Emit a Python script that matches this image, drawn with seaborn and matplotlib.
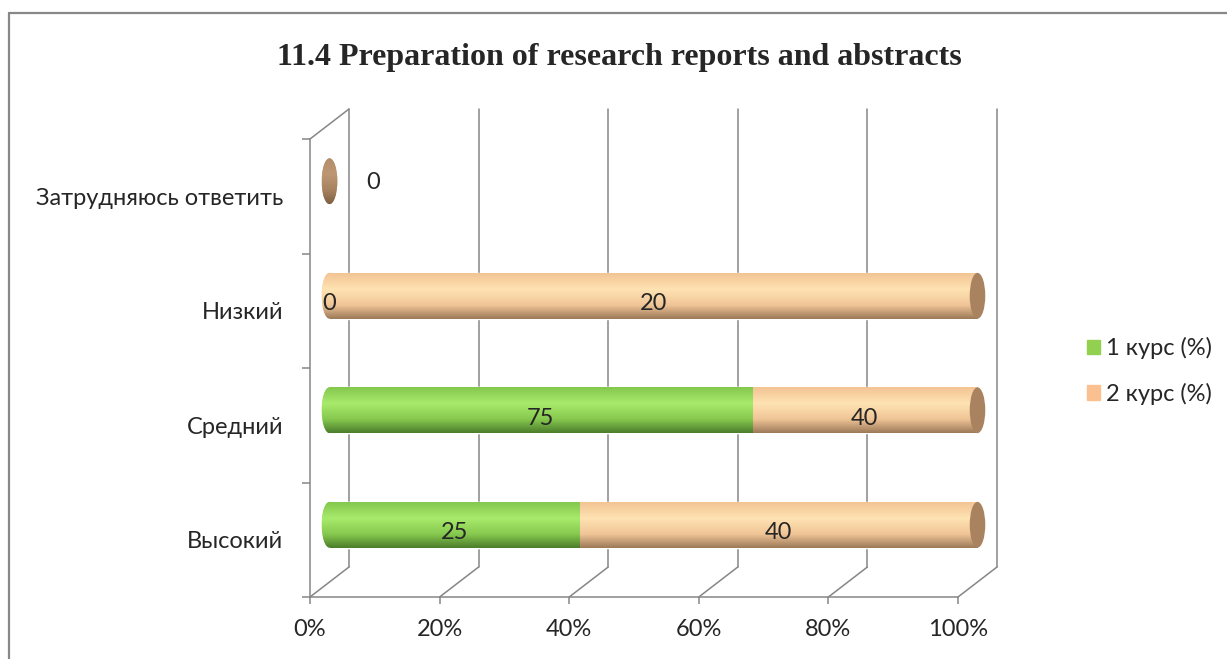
import numpy as np
import matplotlib
matplotlib.use("Agg")
import matplotlib.pyplot as plt
import seaborn as sns
from matplotlib.colors import LinearSegmentedColormap
from matplotlib.lines import Line2D
from matplotlib.patches import Ellipse, Patch
from matplotlib.transforms import ScaledTranslation

# данные диаграммы
TITLE = "11.4 Preparation of research reports and abstracts"
CATEGORIES = ["Затрудняюсь ответить", "Низкий", "Средний", "Высокий"]
KURS_1 = [0, 0, 75, 25]
KURS_2 = [0, 20, 40, 40]
SERIES = ["1 курс (%)", "2 курс (%)"]
X_TICKS = [0, 20, 40, 60, 80, 100]

GREEN = "#92d050"
PEACH = "#fac090"
GRID = "#868686"
GREEN_STOPS = ["#84c84f", "#a8ea6b", "#86c94f", "#4d7e2c"]
PEACH_STOPS = ["#f3c494", "#ffe3b3", "#f0c597", "#9d7a59"]
CAP_STOPS = ["#b48e6b", "#bd9774", "#a7825f", "#7f6045"]
BAR_W = 0.4      # толщина цилиндра (доля категории)
CAP_W = 2.4      # ширина торца-эллипса (в % оси)
FS = 17

sns.set_theme(style="white")
plt.rcParams["font.family"] = ["Lato", "DejaVu Sans"]

W, H, DPI = 1227, 659, 100
fig = plt.figure(figsize=(W / DPI, H / DPI), dpi=DPI)
ax = fig.add_axes([310 / W, 62 / H, 648 / W, 458 / H])


def px(dx, dy):
    return ScaledTranslation(dx / DPI, dy / DPI, fig.dpi_scale_trans)


bar_tf = ax.transData + px(19.5, 15)    # цилиндры посередине "глубины"

# 100% нормировка
k1 = np.array(KURS_1, float)
k2 = np.array(KURS_2, float)
total = k1 + k2
share1 = np.divide(k1 * 100, total, out=np.zeros_like(total), where=total > 0)
full = np.where(total > 0, 100.0, 0.0)

sns.barplot(x=full, y=CATEGORIES, orient="h", color=PEACH, width=BAR_W,
            saturation=1, errorbar=None, ax=ax)
sns.barplot(x=share1, y=CATEGORIES, orient="h", color=GREEN, width=BAR_W,
            saturation=1, errorbar=None, ax=ax)
peach_bars = ax.patches[:4]
green_bars = ax.patches[4:8]


def shade(x0, x1, y0, y1, stops, clip, z, rect=True):
    cmap = LinearSegmentedColormap.from_list("c", list(zip([0, .35, .7, 1], stops)))
    grad = np.linspace(0, 1, 64).reshape(-1, 1)
    im = ax.imshow(grad, cmap=cmap, extent=(x0, x1, y1, y0), aspect="auto",
                   interpolation="bilinear", zorder=z)
    im.set_transform(bar_tf)
    im.set_clip_path(clip)
    if not rect:
        im.set_clip_box(None)


def cap(x, y, color, stops, z):
    e = Ellipse((x, y), width=CAP_W, height=BAR_W, facecolor=color,
                edgecolor="none", transform=bar_tf, zorder=z)
    ax.add_patch(e)
    e.set_clip_on(False)
    shade(x - CAP_W / 2, x + CAP_W / 2, y - BAR_W / 2, y + BAR_W / 2, stops, e, z + 0.05, rect=False)


for i, (pb, gb) in enumerate(zip(peach_bars, green_bars)):
    for p in (pb, gb):
        p.set_transform(bar_tf)
        p.set_clip_on(False)
        p.set_zorder(1.5)
    y0, y1 = i - BAR_W / 2, i + BAR_W / 2
    if total[i] > 0:
        left_stops, left_col = (GREEN_STOPS, GREEN) if share1[i] > 0 else (PEACH_STOPS, PEACH)
        cap(0, i, left_col, left_stops, 2)
        shade(0, full[i], y0, y1, PEACH_STOPS, pb, 3)
        if share1[i] > 0:
            shade(0, share1[i], y0, y1, GREEN_STOPS, gb, 3.1)
    cap(full[i], i, "#a9835f", CAP_STOPS, 4)

# подписи значений
lab_tf = ax.transData + px(19.5, 7)
for i in range(len(CATEGORIES)):
    if total[i] > 0:
        ax.text(share1[i] / 2, i, f"{KURS_1[i]}", transform=lab_tf,
                ha="center", va="center", fontsize=FS, zorder=6)
        ax.text((share1[i] + full[i]) / 2, i, f"{KURS_2[i]}", transform=lab_tf,
                ha="center", va="center", fontsize=FS, zorder=6)
    else:
        ax.text(0, i, f"{KURS_2[i]}", transform=ax.transData + px(63, 14),
                ha="center", va="center", fontsize=FS, zorder=6)

ax.set_xlim(0, 100)
ax.set_ylim(len(CATEGORIES) - 0.5, -0.5)
ax.set_xlabel("")
ax.set_ylabel("")
ax.set_xticks(X_TICKS)
ax.set_xticklabels([f"{v}%" for v in X_TICKS])
ax.set_yticks(range(len(CATEGORIES)))
ax.set_yticklabels(CATEGORIES)
ax.set_yticks(np.arange(-0.5, len(CATEGORIES)), minor=True)
ax.tick_params(axis="x", which="major", bottom=True, length=5, width=1.1,
               color=GRID, pad=11, labelsize=FS)
ax.tick_params(axis="y", which="major", left=False, length=0, pad=19, labelsize=FS)
ax.tick_params(axis="y", which="minor", left=True, length=6, width=1.1, color=GRID)
for s in ("top", "right"):
    ax.spines[s].set_visible(False)
for s in ("left", "bottom"):
    ax.spines[s].set_color(GRID)
    ax.spines[s].set_linewidth(1.1)
ax.patch.set_alpha(0)

# "3D" стенки: задняя стенка и диагонали пола
back = ax.get_xaxis_transform() + px(39, 30)
for x in X_TICKS:
    ax.plot([x, x], [0, 1], transform=back, color=GRID, lw=1.1, clip_on=False, zorder=0.5)
to_fig = fig.transFigure.inverted()
front = ax.get_xaxis_transform()
for x, yf in [(x, 0) for x in X_TICKS] + [(0, 1)]:
    p0 = front.transform((x, yf))
    p1 = p0 + np.array([39, 30]) * fig.dpi / DPI
    (a, b), (c, d) = to_fig.transform([p0, p1])
    fig.add_artist(Line2D([a, c], [b, d], transform=fig.transFigure,
                          color=GRID, lw=1.1, zorder=0.5))

fig.text(619 / W, 1 - 57 / H, TITLE, ha="center", va="center", fontsize=23,
         fontweight="bold", family="Liberation Serif")

fig.legend(handles=[Patch(color=GREEN), Patch(color=PEACH)], labels=SERIES,
           loc="center left", bbox_to_anchor=(1066 / W, 1 - 371 / H), frameon=False,
           fontsize=FS, handlelength=0.55, handleheight=0.55, handletextpad=0.25,
           labelspacing=1.0)

# рамка области диаграммы
fig.add_artist(Line2D([9 / W, 9 / W], [0, 1 - 13 / H], transform=fig.transFigure,
                      color="#888888", lw=1.6))
fig.add_artist(Line2D([9 / W, 1], [1 - 13 / H, 1 - 13 / H], transform=fig.transFigure,
                      color="#888888", lw=1.6))

fig.savefig("out.png", dpi=DPI)
